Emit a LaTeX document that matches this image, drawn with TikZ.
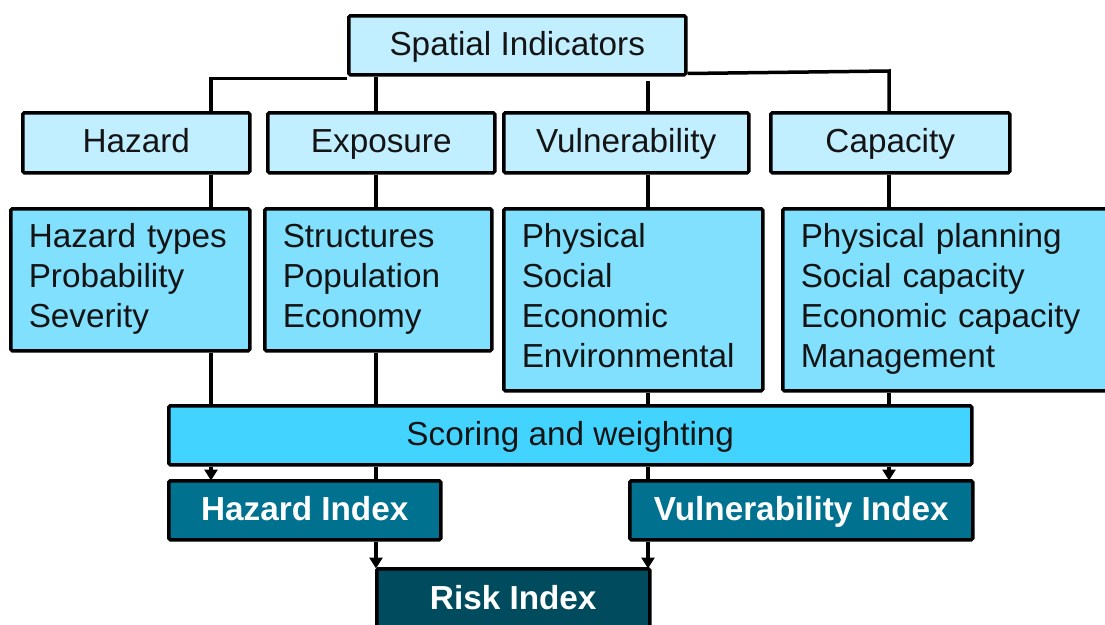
\documentclass[tikz,border=0pt]{standalone}
\usepackage{fontspec}
\setmainfont{Liberation Sans}
\usetikzlibrary{arrows.meta}
\definecolor{topfill}{HTML}{C2EFFF}
\definecolor{listfill}{HTML}{82E0FF}
\definecolor{scorefill}{HTML}{42D4FF}
\definecolor{idxfill}{HTML}{00718F}
\definecolor{riskfill}{HTML}{004C5E}
\definecolor{txt}{HTML}{141414}
\newcommand\ls{\strut}
\tikzset{
  box/.style={draw=black, line width=3.5pt, rounded corners=1.5pt, anchor=north west,
    inner sep=0pt, font=\fontsize{33.3}{40}\selectfont, text=txt},
  oneline/.style={text height=26pt, text depth=6pt},
  topbox/.style={box, oneline, fill=topfill, align=center},
  listbox/.style={box, fill=listfill, align=left, inner xsep=18pt},
  scorebox/.style={box, oneline, fill=scorefill, align=center},
  idxbox/.style={box, oneline, fill=idxfill, text=white, font=\fontsize{33.3}{40}\selectfont\bfseries},
  riskbox/.style={box, oneline, fill=riskfill, text=white, font=\fontsize{33.3}{40}\selectfont\bfseries},
  conn/.style={draw=black, line width=3.5pt},
  arr/.style={conn, -{Triangle[width=13pt,length=11pt]}, shorten >=-1.5pt},
}
\begin{document}
\begin{tikzpicture}[x=1pt,y=-1pt]
\useasboundingbox (0,0) rectangle (1105,624);
\clip (0,0) rectangle (1105,624);
% column coordinates
\coordinate (xa) at (211,0);
\coordinate (xb) at (376,0);
\coordinate (xc) at (648,0);
\coordinate (xd) at (889,0);
\coordinate (tl) at (211,71);
\coordinate (tr) at (889,71);
\coordinate (vtop) at (648,81);

\node[topbox, minimum width=337pt, minimum height=59pt] (si) at (347,14) {Spatial Indicators};

\node[topbox, minimum width=227pt, minimum height=60pt] (haz) at (21,111) {Hazard};
\node[topbox, minimum width=227pt, minimum height=60pt] (exp) at (266,111) {Exposure};
\node[topbox, minimum width=245pt, minimum height=60pt] (vul) at (502,111) {Vulnerability};
\node[topbox, minimum width=239pt, minimum height=60pt] (cap) at (769,111) {Capacity};

\node[listbox, text width=203pt, minimum height=142pt] (hazl) at (9,207) {\ls Hazard types\\\ls Probability\\\ls Severity};
\node[listbox, text width=191pt, minimum height=142pt] (expl) at (263,207) {\ls Structures\\\ls Population\\\ls Economy};
\node[listbox, text width=223pt, minimum height=182pt] (vull) at (502,207) {\ls Physical\\\ls Social\\\ls Economic\\\ls Environmental};
\node[listbox, text width=304pt, minimum height=182pt] (capl) at (781,207) {\ls Physical planning\\\ls Social capacity\\\ls Economic capacity\\\ls Management};

\node[scorebox, minimum width=803pt, minimum height=59pt] (sw) at (167,404) {Scoring and weighting};

\node[idxbox, minimum width=272pt, minimum height=59pt] (hi) at (167,479) {Hazard Index};
\node[idxbox, minimum width=343pt, minimum height=59pt] (vi) at (628,479) {Vulnerability Index};
\node[riskbox, minimum width=273pt, minimum height=62pt] (ri) at (375,567) {Risk Index};

% top tree
\draw[conn] ([yshift=-2pt]si.south west) -- ([yshift=-2pt]si.south west -| tl) -- (haz.north -| tl);
\draw[conn] (si.south -| xb) -- (exp.north -| xb);
\draw[conn] (vtop) -- (vul.north -| vtop);
\draw[conn] ([yshift=3pt]si.south east) -- (tr) -- (cap.north -| tr);

% category to list
\draw[conn] (haz.south -| xa) -- (hazl.north -| xa);
\draw[conn] (exp.south -| xb) -- (expl.north -| xb);
\draw[conn] (vul.south -| xc) -- (vull.north -| xc);
\draw[conn] (cap.south -| xd) -- (capl.north -| xd);

% list to scoring
\draw[conn] (hazl.south -| xa) -- (sw.north -| xa);
\draw[conn] (expl.south -| xb) -- (sw.north -| xb);
\draw[conn] (vull.south -| xc) -- (sw.north -| xc);
\draw[conn] (capl.south -| xd) -- (sw.north -| xd);

% scoring to indexes
\draw[arr] (sw.south -| xa) -- (hi.north -| xa);
\draw[conn] (sw.south -| xb) -- (hi.north -| xb);
\draw[conn] (sw.south -| xc) -- (vi.north -| xc);
\draw[arr] (sw.south -| xd) -- (vi.north -| xd);

% indexes to risk
\draw[arr] (hi.south -| xb) -- (ri.north -| xb);
\draw[arr] (vi.south -| xc) -- (ri.north -| xc);
\end{tikzpicture}
\end{document}
